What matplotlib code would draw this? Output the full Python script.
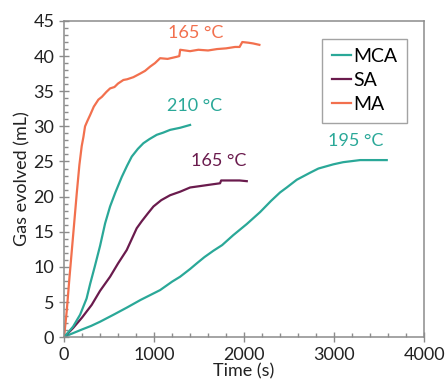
import numpy as np
import matplotlib
matplotlib.use("Agg")
import matplotlib.pyplot as plt
from matplotlib.ticker import MultipleLocator

plt.rcParams['font.family'] = ['Lato', 'DejaVu Sans']

# data (time in s, gas in mL)
ma_t = [0, 30, 60, 104, 141, 170, 196, 215, 233, 260, 289, 330, 381, 420, 470, 511, 560, 600,
        659, 700, 770, 844, 900, 956, 1010, 1067, 1150, 1252, 1280, 1290, 1400, 1492, 1600,
        1700, 1800, 1900, 1950, 1980, 2050, 2100, 2170]
ma_y = [0, 3.8, 8.5, 15.0, 20.5, 24.5, 27.2, 28.5, 30.0, 30.8, 31.6, 32.8, 33.8, 34.2, 34.9,
        35.4, 35.6, 36.1, 36.6, 36.7, 37.0, 37.5, 37.9, 38.5, 39.0, 39.7, 39.6, 39.9, 40.0,
        40.9, 40.7, 40.9, 40.8, 41.0, 41.1, 41.3, 41.3, 42.0, 41.9, 41.8, 41.6]

mca210_t = [0, 100, 178, 250, 290, 340, 400, 456, 511, 570, 641, 700, 752, 820, 881, 950,
            1030, 1100, 1178, 1290, 1400]
mca210_y = [0, 1.5, 3.2, 5.5, 7.6, 10.0, 13.0, 16.2, 18.6, 20.6, 22.8, 24.4, 25.7, 26.8,
            27.6, 28.2, 28.8, 29.1, 29.5, 29.8, 30.2]

sa_t = [0, 100, 200, 307, 400, 511, 600, 696, 807, 863, 930, 993, 1080, 1178, 1289, 1400,
        1511, 1620, 1733, 1745, 1850, 1950, 2030]
sa_y = [0, 1.3, 2.8, 4.6, 6.6, 8.6, 10.5, 12.4, 15.5, 16.5, 17.6, 18.6, 19.5, 20.2, 20.7,
        21.3, 21.5, 21.7, 21.9, 22.3, 22.3, 22.3, 22.2]

mca195_t = [0, 67, 200, 300, 400, 550, 696, 850, 1067, 1200, 1289, 1400, 1474, 1560, 1659,
            1756, 1878, 2030, 2178, 2300, 2400, 2474, 2585, 2733, 2826, 2993, 3100, 3289,
            3450, 3585]
mca195_y = [0, 0.4, 1.1, 1.6, 2.2, 3.2, 4.2, 5.3, 6.7, 7.9, 8.6, 9.7, 10.5, 11.4, 12.3,
            13.1, 14.5, 16.1, 17.8, 19.4, 20.6, 21.3, 22.4, 23.4, 24.0, 24.6, 24.9, 25.2,
            25.2, 25.2]

teal = '#2aa898'
purple = '#6a1b4d'
orange = '#f2704e'
spine_gray = '#8c8c8c'
text_col = '#222222'

fig = plt.figure(figsize=(4.45, 3.88), dpi=100)
ax = fig.add_axes([0.144, 0.131, 0.809, 0.815])

# series
ax.plot(mca195_t, mca195_y, color=teal, lw=1.6, label='MCA')
ax.plot(sa_t, sa_y, color=purple, lw=1.6, label='SA')
ax.plot(ma_t, ma_y, color=orange, lw=1.6, label='MA')
ax.plot(mca210_t, mca210_y, color=teal, lw=1.6)

# temperature labels
ax.text(1460, 43.3, '165 °C', color=orange, fontsize=13, ha='center', va='center')
ax.text(1445, 32.9, '210 °C', color=teal, fontsize=13, ha='center', va='center')
ax.text(1722, 25.0, '165 °C', color=purple, fontsize=13, ha='center', va='center')
ax.text(3240, 27.9, '195 °C', color=teal, fontsize=13, ha='center', va='center')

# axes
ax.set_xlim(0, 4000)
ax.set_ylim(0, 45)
ax.xaxis.set_major_locator(MultipleLocator(1000))
ax.xaxis.set_minor_locator(MultipleLocator(200))
ax.yaxis.set_major_locator(MultipleLocator(5))
ax.yaxis.set_minor_locator(MultipleLocator(1))
ax.tick_params(which='major', direction='inout', length=7, width=1, color=spine_gray,
               labelsize=13, labelcolor=text_col)
ax.tick_params(which='minor', direction='in', length=3, width=1, color=spine_gray)
for s in ax.spines.values():
    s.set_color(spine_gray)
    s.set_linewidth(1.1)

ax.set_xlabel('Time (s)', fontsize=13, color=text_col, labelpad=0)
ax.set_ylabel('Gas evolved (mL)', fontsize=13, color=text_col, labelpad=2)

leg = ax.legend(loc='upper right', bbox_to_anchor=(0.98, 0.975), fontsize=14,
                handlelength=1.0, handletextpad=0.1, fancybox=False, borderpad=0.5,
                labelspacing=0.35)
leg.get_frame().set_edgecolor(spine_gray)
leg.get_frame().set_linewidth(1.0)

fig.savefig('out.png', dpi=100)
